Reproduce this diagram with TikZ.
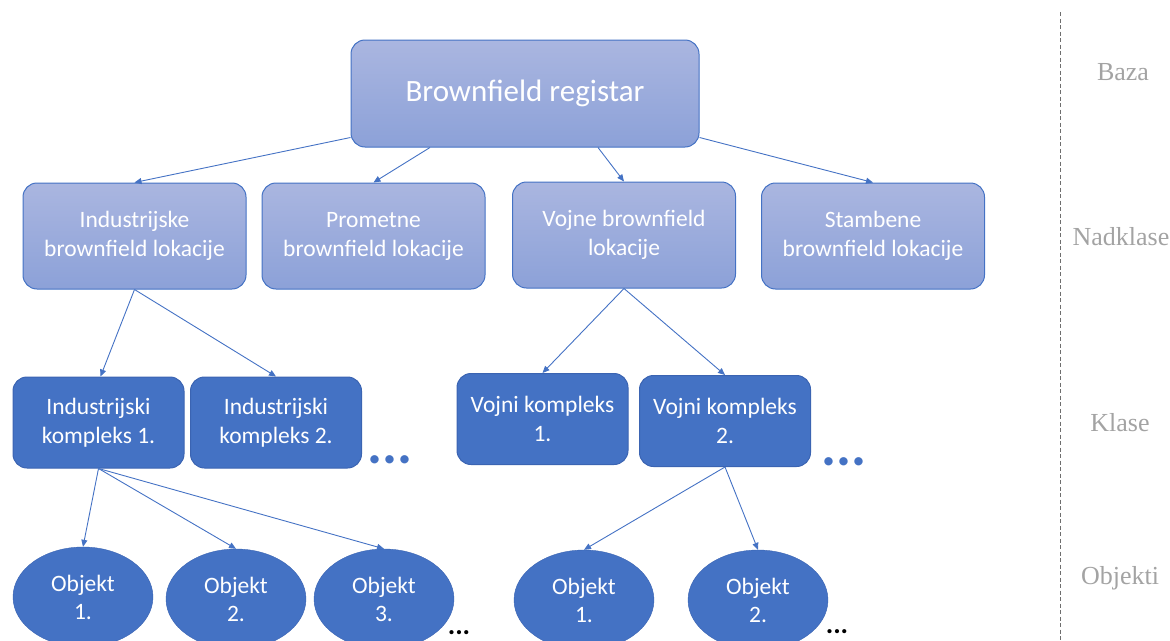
\documentclass[tikz,border=0pt]{standalone}
\usepackage{fontspec}
\setmainfont{Carlito}
\newfontfamily\layerfont{Liberation Serif}
\usetikzlibrary{arrows.meta,shapes.geometric}

\definecolor{accent}{HTML}{4472C4}
\definecolor{accentdark}{HTML}{3B64B2}
\definecolor{lighttop}{HTML}{AAB6E0}
\definecolor{lightbot}{HTML}{8CA1D8}
\definecolor{layergray}{HTML}{A3A3A3}
\definecolor{rulegray}{HTML}{6E6E6E}

\begin{document}
\begin{tikzpicture}[x=1pt,y=-1pt,
  box/.style={rounded corners=14pt, line width=1pt, text=white, align=center, inner sep=0pt, font=\fontsize{23.5}{29}\selectfont},
  upper/.style={box, draw=accent, top color=lighttop, bottom color=lightbot, minimum width=223pt, minimum height=106pt},
  lower/.style={box, draw=accentdark, fill=accent, minimum width=171pt, minimum height=91pt},
  objekt/.style={ellipse, draw=accentdark, fill=accent, text=white, align=center, inner sep=0pt, minimum width=140pt, minimum height=100pt, font=\fontsize{23.5}{28}\selectfont},
  link/.style={draw=accent, line width=0.9pt, -{Triangle[length=7pt,width=6pt]}},
  more/.style={text=accent, inner sep=0pt, anchor=base, font=\fontsize{56}{56}\selectfont\bfseries},
  moreobj/.style={text=black, inner sep=0pt, anchor=base, font=\fontsize{28}{28}\selectfont\bfseries},
  layer/.style={text=layergray, font=\fontsize{26}{30}\layerfont}
]
\useasboundingbox (0,0) rectangle (1170,640);

\node[upper, minimum width=348pt, minimum height=107pt, font=\fontsize{31}{36}\selectfont] (R) at (525,93.5) {Brownfield registar};

\node[upper] (I) at (134.5,236) {Industrijske\\brownfield lokacije};
\node[upper] (P) at (373.5,236) {Prometne\\brownfield lokacije};
\node[upper] (V) at (624,235) {Vojne brownfield\\lokacije};
\node[upper] (S) at (873,236) {Stambene\\brownfield lokacije};

\node[lower] (I1) at (98.5,422.5) {Industrijski\\kompleks 1.};
\node[lower] (I2) at (276,422.5) {Industrijski\\kompleks 2.};
\node[lower] (V1) at (542.5,419) {Vojni kompleks\\1.};
\node[lower] (V2) at (725,421) {Vojni kompleks\\2.};
\node[more] (Imore) at (390,463) {...};
\node[more] (Vmore) at (844,465) {...};

\node[objekt] (O1) at (83,597) {Objekt\\1.};
\node[objekt] (O2) at (236,599) {Objekt\\2.};
\node[objekt] (O3) at (384,599) {Objekt\\3.};
\node[objekt] (W1) at (584,600) {Objekt\\1.};
\node[objekt] (W2) at (758,600) {Objekt\\2.};
\node[moreobj] (Omore) at (459,634) {...};
\node[moreobj] (Wmore) at (837,633) {...};

\draw[link] ([yshift=10pt]R.south west) -- (I.north);
\draw[link] ([xshift=-95pt]R.south) -- (P.north);
\draw[link] ([xshift=73pt]R.south) -- (V.north);
\draw[link] ([yshift=10pt]R.south east) -- (S.north);
\draw[link] (I.south) -- ([xshift=2pt]I1.north);
\draw[link] (I.south) -- (I2.north);
\draw[link] (V.south) -- (V1.north);
\draw[link] (V.south) -- (V2.north);
\draw[link] (I1.south) -- (O1.north);
\draw[link] (I1.south) -- (O2.north);
\draw[link] (I1.south) -- (O3.north);
\draw[link] (V2.south) -- (W1.north);
\draw[link] (V2.south) -- (W2.north);

\draw[rulegray, line width=1pt, dash pattern=on 4pt off 2.5pt] (1060,12) -- (1060,640);
\node[layer] (Lbaza) at (1123,72) {Baza};
\node[layer] (Lnad) at (1121,237) {Nadklase};
\node[layer] (Lklase) at (1120,423) {Klase};
\node[layer] (Lobj) at (1120,578) {Objekti};
\end{tikzpicture}
\end{document}
